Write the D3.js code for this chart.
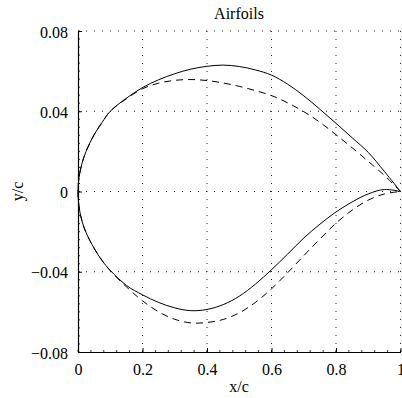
<!DOCTYPE html>
<html><head><meta charset="utf-8">
<script src="https://cdn.jsdelivr.net/npm/d3@7"></script>
<style>body{margin:0;background:#fff}svg{display:block}text{font-family:"Liberation Serif","Times New Roman",serif;fill:#000}</style>
</head><body><svg id="c" width="402" height="398"></svg>
<script>
const xStations = [0,0.003,0.0125,0.025,0.05,0.075,0.1,0.15,0.2,0.25,0.3,0.35,0.4,0.45,0.5,0.55,0.6,0.65,0.7,0.75,0.8,0.85,0.9,0.95,1];
const solidUpper = [0,0.0069,0.0141,0.0200,0.0283,0.0345,0.0400,0.0465,0.0518,0.0557,0.0587,0.0610,0.0624,0.0630,0.0623,0.0606,0.0580,0.0535,0.0477,0.0410,0.0340,0.0268,0.0195,0.0100,0];
const solidLower = [0,-0.0075,-0.0148,-0.0205,-0.0283,-0.0345,-0.0393,-0.0468,-0.0515,-0.0553,-0.0580,-0.0594,-0.0588,-0.0564,-0.0522,-0.0462,-0.0390,-0.0312,-0.0232,-0.0163,-0.0102,-0.0052,-0.0012,0.0010,0];
const dashUpper = [0,0.0069,0.0141,0.0200,0.0283,0.0345,0.0400,0.0462,0.0512,0.0540,0.0554,0.0558,0.0553,0.0541,0.0524,0.0503,0.0478,0.0442,0.0398,0.0345,0.0283,0.0218,0.0150,0.0080,0];
const dashLower = [0,-0.0075,-0.0148,-0.0205,-0.0283,-0.0345,-0.0395,-0.0475,-0.0545,-0.0600,-0.0637,-0.0655,-0.0653,-0.0638,-0.0605,-0.0553,-0.0485,-0.0405,-0.0320,-0.0237,-0.0158,-0.0093,-0.0043,-0.0012,0];
const xTicks = [0,0.2,0.4,0.6,0.8,1];
const xTickLabels = ["0","0.2","0.4","0.6","0.8","1"];
const yTicks = [-0.08,-0.04,0,0.04,0.08];
const yTickLabels = ["\u22120.08","\u22120.04","0","0.04","0.08"];
const titleText = "Airfoils", xLabel = "x/c", yLabel = "y/c";

const L=78, R=400.5, T=31, B=352;
const svg = d3.select("#c");
const x = d3.scaleLinear().domain([0,1]).range([L,R]);
const y = d3.scaleLinear().domain([-0.08,0.08]).range([B,T]);

// grid
const g = svg.append("g");
xTicks.forEach(v=>{ if(v>0) g.append("line").attr("x1",x(v)).attr("x2",x(v)).attr("y1",B).attr("y2",T)
  .attr("stroke","#222").attr("stroke-width",1).attr("stroke-dasharray","1,7"); });
yTicks.forEach(v=>{ if(v>-0.08) g.append("line").attr("x1",L).attr("x2",R).attr("y1",y(v)).attr("y2",y(v))
  .attr("stroke","#222").attr("stroke-width",1).attr("stroke-dasharray","1,7"); });

// minor ticks
d3.range(-0.08,0.0801,0.004).forEach(v=>{ svg.append("line").attr("x1",L).attr("x2",L+2).attr("y1",y(v)).attr("y2",y(v)).attr("stroke","#000").attr("stroke-width",0.8); });
d3.range(0,1.001,0.04).forEach(v=>{ svg.append("line").attr("x1",x(v)).attr("x2",x(v)).attr("y1",B).attr("y2",B-2).attr("stroke","#000").attr("stroke-width",0.8); });

// axes
const xa = svg.append("g").attr("transform",`translate(0,${B})`)
  .call(d3.axisBottom(x).tickValues(xTicks).tickFormat((d,i)=>xTickLabels[i]).tickSizeInner(-4).tickSizeOuter(0).tickPadding(12));
const ya = svg.append("g").attr("transform",`translate(${L},0)`)
  .call(d3.axisLeft(y).tickValues(yTicks).tickFormat((d,i)=>yTickLabels[i]).tickSizeInner(-4).tickSizeOuter(0).tickPadding(10));
[xa,ya].forEach(a=>{ a.select(".domain").attr("stroke","#000").attr("stroke-width",1.2);
  a.selectAll("text").attr("font-family","Liberation Serif").attr("font-size",16); });
xa.selectAll("text").attr("dy","0.71em");
ya.selectAll("text").attr("dy","0.38em");

// curves
function loop(up, lo){
  const pts = [];
  for(let i=xStations.length-1;i>=0;i--) pts.push([xStations[i], up[i]]);
  for(let i=1;i<xStations.length;i++) pts.push([xStations[i], lo[i]]);
  return pts;
}
const line = d3.line().x(d=>x(d[0])).y(d=>y(d[1])).curve(d3.curveCatmullRom.alpha(0.5));
svg.append("path").attr("d",line(loop(solidUpper,solidLower))).attr("fill","none").attr("stroke","#000").attr("stroke-width",1);
svg.append("path").attr("d",line(loop(dashUpper,dashLower))).attr("fill","none").attr("stroke","#000").attr("stroke-width",1).attr("stroke-dasharray","7,5");

// text
svg.append("text").attr("x",239).attr("y",18.5).attr("text-anchor","middle").attr("font-size",16).text(titleText);
svg.append("text").attr("x",239).attr("y",392).attr("text-anchor","middle").attr("font-size",16).text(xLabel);
svg.append("text").attr("transform","translate(23,191.5) rotate(-90)").attr("text-anchor","middle").attr("font-size",16).text(yLabel);
</script></body></html>
